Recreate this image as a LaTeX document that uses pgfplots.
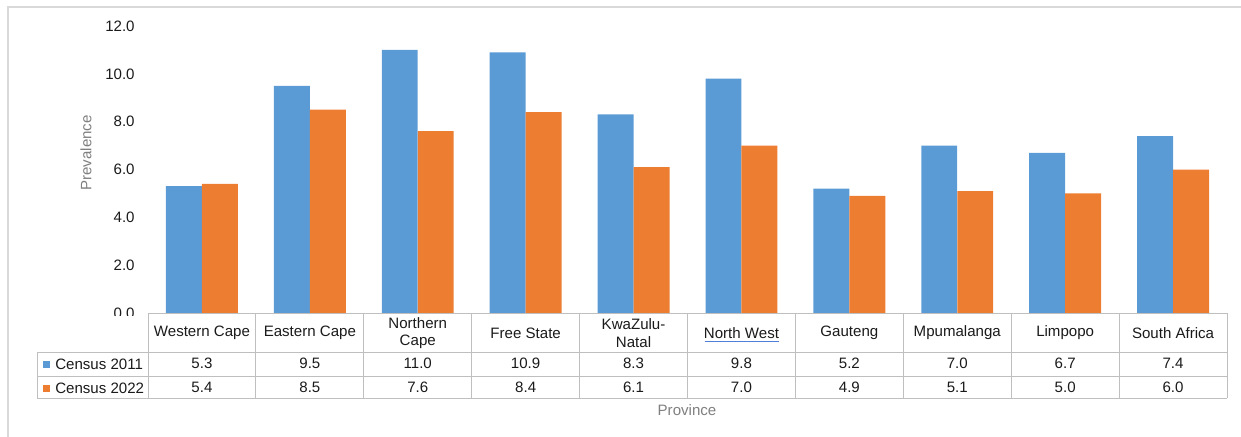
\documentclass[border=0pt]{standalone}
\usepackage{pgfplots}
\pgfplotsset{compat=1.18}
\usepackage{pgfplotstable}
\usepackage{fontspec}
\setmainfont{Liberation Sans}
\definecolor{cblue}{HTML}{5B9BD5}
\definecolor{corange}{HTML}{ED7D31}
\definecolor{gridc}{HTML}{BFBFBF}
\definecolor{framec}{HTML}{D9D9D9}
\definecolor{titlec}{HTML}{7F7F7F}
\definecolor{ulblue}{HTML}{4F7FD9}
\definecolor{txt}{HTML}{1A1A1A}

\pgfplotstableread{
x a b
0 5.3 5.4
1 9.5 8.5
2 11.0 7.6
3 10.9 8.4
4 8.3 6.1
5 9.8 7.0
6 5.2 4.9
7 7.0 5.1
8 6.7 5.0
9 7.4 6.0
}\data

\begin{document}
\begin{tikzpicture}[font=\fontsize{11.3}{13.2}\selectfont]
\useasboundingbox (0,0) rectangle (930.75pt,-327pt);
\begin{scope}[x=0.75pt,y=-0.75pt]
\draw[framec, line width=1.5pt] (8,7) rectangle (1280,480);
\end{scope}
\begin{axis}[
  at={(111pt,-234.75pt)}, anchor=south west,
  width=809.25pt, height=215.25pt, scale only axis,
  xmin=-0.5, xmax=9.5, ymin=0, ymax=12,
  axis line style={draw=none}, tick style={draw=none},
  clip=false,
  ytick={0,2,4,6,8,10,12},
  yticklabel style={text=txt, xshift=-6.5pt, /pgf/number format/.cd, fixed, fixed zerofill, precision=1, assume math mode=true},
  xtick={0,1,2,3,4,5,6,7,8,9},
  xticklabels={Western Cape, Eastern Cape, {Northern\\Cape}, Free State, {KwaZulu-\\Natal}, North West, Gauteng, Mpumalanga, Limpopo, South Africa},
  xticklabel style={anchor=center, yshift=-15pt, align=center, text=txt},
]
\addplot[ybar, bar width=0.333, bar shift=-0.1667, fill=cblue, draw=none] table[x=x,y=a]{\data};
\addplot[ybar, bar width=0.333, bar shift=0.1667, fill=corange, draw=none] table[x=x,y=b]{\data};
\addplot[draw=none, mark=none, forget plot, nodes near coords, point meta=explicit,
  every node near coord/.style={anchor=center, text=txt, inner sep=0pt, /pgf/number format/.cd, fixed, fixed zerofill, precision=1, assume math mode=true}]
  table[x=x, y expr=-2.11, meta=a]{\data};
\addplot[draw=none, mark=none, forget plot, nodes near coords, point meta=explicit,
  every node near coord/.style={anchor=center, text=txt, inner sep=0pt, /pgf/number format/.cd, fixed, fixed zerofill, precision=1, assume math mode=true}]
  table[x=x, y expr=-3.11, meta=b]{\data};
\end{axis}
\begin{scope}[x=0.75pt,y=-0.75pt]
% hide lower part of 0.0 label
\fill[white] (88,316) rectangle (146,349);
% spell-check style underline under North West
\draw[ulblue, line width=1pt] (705,341.5) -- (779,341.5);
% table lines
\draw[gridc, line width=0.75pt] (148,313) -- (1227,313);
\foreach \yy in {352,376,398} \draw[gridc, line width=0.75pt] (37,\yy) -- (1227,\yy);
\draw[gridc, line width=0.75pt] (37,352) -- (37,398);
\foreach \k in {0,...,10} \draw[gridc, line width=0.75pt] ({148+107.9*\k},313) -- ({148+107.9*\k},398);
% legend keys
\fill[cblue] (43,361) rectangle (50,368);
\fill[corange] (43,385) rectangle (50,392);
\node[anchor=west, text=txt, inner sep=0pt] at (55,364.5) {Census 2011};
\node[anchor=west, text=txt, inner sep=0pt] at (55,388.5) {Census 2022};
% titles
\node[rotate=90, text=titlec] at (86,153) {Prevalence};
\node[text=titlec] at (687,410) {Province};
\end{scope}
\end{tikzpicture}
\end{document}
